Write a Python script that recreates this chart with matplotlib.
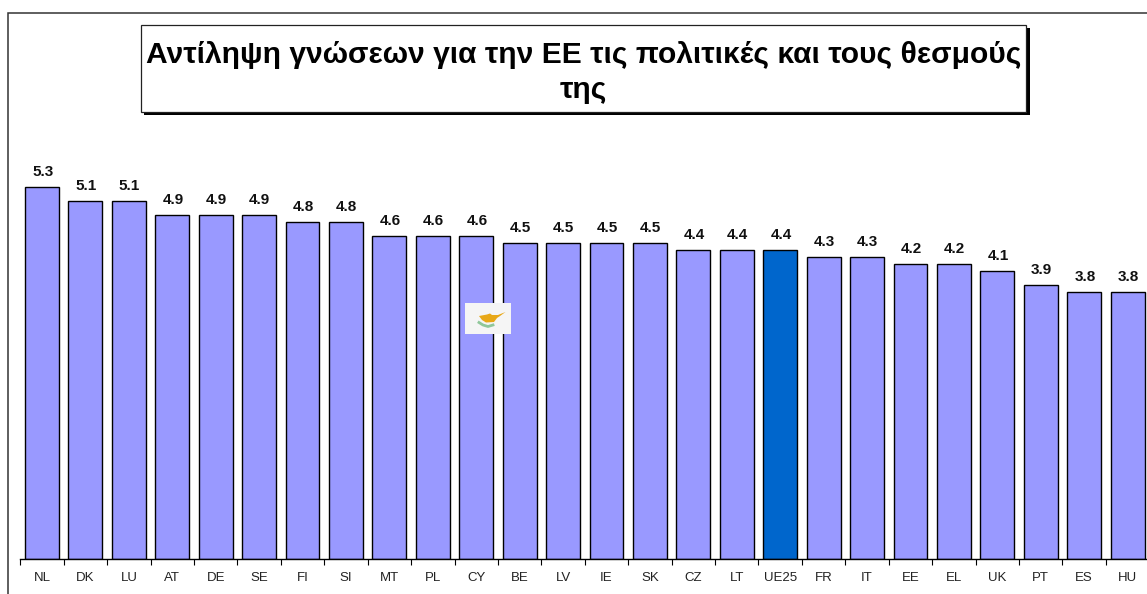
import numpy as np
import matplotlib
matplotlib.use('Agg')
import matplotlib.pyplot as plt
from matplotlib.patches import Rectangle, Polygon

# Dados
countries = ['NL', 'DK', 'LU', 'AT', 'DE', 'SE', 'FI', 'SI', 'MT', 'PL', 'CY', 'BE', 'LV',
             'IE', 'SK', 'CZ', 'LT', 'UE25', 'FR', 'IT', 'EE', 'EL', 'UK', 'PT', 'ES', 'HU']
values = [5.3, 5.1, 5.1, 4.9, 4.9, 4.9, 4.8, 4.8, 4.6, 4.6, 4.6, 4.5, 4.5,
          4.5, 4.5, 4.4, 4.4, 4.4, 4.3, 4.3, 4.2, 4.2, 4.1, 3.9, 3.8, 3.8]
title_lines = ['Αντίληψη γνώσεων για την ΕΕ τις πολιτικές και τους θεσμούς', 'της']

plt.rcParams['font.family'] = ['Liberation Sans', 'DejaVu Sans']

W, H = 1147, 594
fig = plt.figure(figsize=(W / 100, H / 100), dpi=100, facecolor='white')

# Eixo das barras (passa um pouco da borda direita, como no original)
ax = fig.add_axes([20.3 / W, (H - 558.5) / H, 1129 / W, 408.5 / H])
x = np.arange(len(countries))
colors = ['#0066CC' if c == 'UE25' else '#9999FF' for c in countries]
ax.bar(x, values, width=0.78, color=colors, edgecolor='black', linewidth=1.0)
ax.set_xlim(-0.5, len(countries) - 0.5)
ax.set_ylim(0, 408.5 / 70.1)
ax.set_yticks([])
for s in ['top', 'right', 'left']:
    ax.spines[s].set_visible(False)
ax.spines['bottom'].set_linewidth(1.0)
ax.set_xticks(x)
ax.set_xticklabels(countries, fontsize=9.5, color='#222222')
ax.tick_params(axis='x', which='major', length=0, pad=9.5)
ax.set_xticks(np.arange(len(countries) + 1) - 0.5, minor=True)
ax.tick_params(axis='x', which='minor', length=4, width=0.8)
ax.patch.set_alpha(0)

for i, v in enumerate(values):
    ax.annotate(f'{v:.1f}', (i, v), xytext=(0.7, 8), textcoords='offset pixels',
                ha='center', va='bottom', fontsize=11, fontweight='bold', color='#111111')

# Camada em pixels: moldura, título e bandeira
ov = fig.add_axes([0, 0, 1, 1], zorder=5)
ov.set_xlim(0, W)
ov.set_ylim(H, 0)
ov.axis('off')
ov.patch.set_alpha(0)

ov.plot([8, 8, W], [H, 13, 13], color='#333333', lw=1.1, solid_joinstyle='miter')

ov.add_patch(Rectangle((144, 28), 885.5, 87, fc='black', ec='none'))
ov.add_patch(Rectangle((140.5, 24.5), 885.5, 87, fc='white', ec='#222222', lw=0.9))
ov.text(583.5, 55, title_lines[0], ha='center', va='center', fontsize=21.6, fontweight='bold', color='black')
ov.text(583.5, 90, title_lines[1], ha='center', va='center', fontsize=21.6, fontweight='bold', color='black')

# Bandeira de Chipre
ov.add_patch(Rectangle((465, 303), 46, 31, fc='#F5F5F5', ec='none'))
ov.add_patch(Polygon([(479, 316), (487, 314.5), (490, 313.5), (492, 315), (498, 315), (505.5, 312),
                     (500, 316), (497, 318), (494, 322), (486, 322.5), (482, 320)],
                     fc='#E8A818', ec='none'))
ov.plot([479, 483, 488, 493], [322.5, 325, 326.5, 325], color='#8FC79A', lw=2)

fig.savefig('out.png', dpi=100)
